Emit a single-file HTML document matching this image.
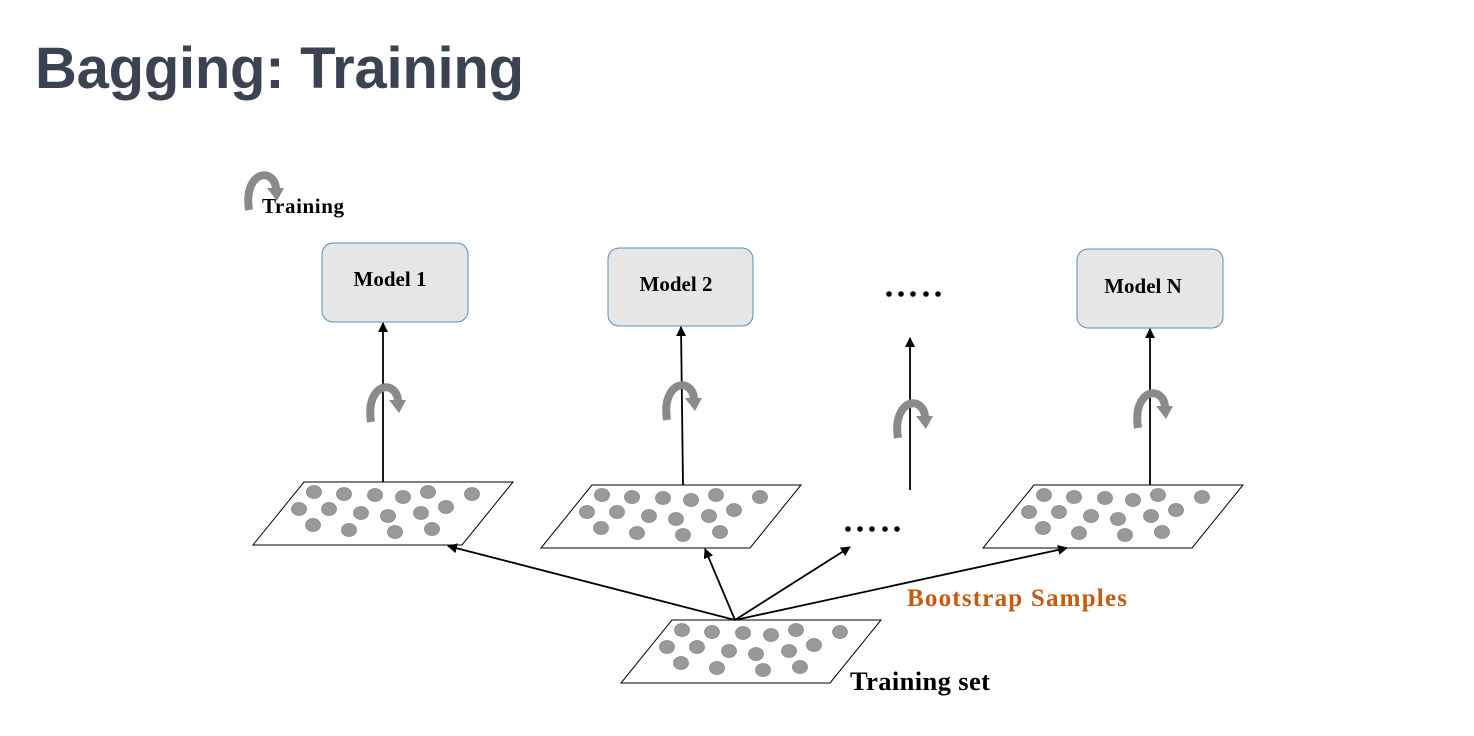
<!DOCTYPE html>
<html><head><meta charset="utf-8"><style>
html,body{margin:0;padding:0;background:#fff;width:1474px;height:736px;overflow:hidden}
</style></head><body>
<svg width="1474" height="736" viewBox="0 0 1474 736" xmlns="http://www.w3.org/2000/svg">
<defs>
<marker id="ah" markerWidth="10" markerHeight="10" refX="9" refY="5" orient="auto" markerUnits="userSpaceOnUse">
<path d="M0,0 L10,5 L0,10 z" fill="#000"/></marker>
<g id="cur">
<path d="M5,40 C1,14 14,2 24,6 C30,9 32,14 32,20" fill="none" stroke="#8a8a8a" stroke-width="8"/>
<polygon points="23,18 40,18 33,31" fill="#8a8a8a"/>
</g>
<g id="par">
<polygon points="51,0 260,0 209,63 0,63" fill="#fff" stroke="#000" stroke-width="1"/>
<g fill="#999" stroke="#888" stroke-width="0.8">
<ellipse cx="61" cy="10" rx="7.5" ry="6.5"/><ellipse cx="91" cy="12" rx="7.5" ry="6.5"/><ellipse cx="122" cy="13" rx="7.5" ry="6.5"/><ellipse cx="150" cy="15" rx="7.5" ry="6.5"/><ellipse cx="175" cy="10" rx="7.5" ry="6.5"/><ellipse cx="219" cy="12" rx="7.5" ry="6.5"/>
<ellipse cx="46" cy="27" rx="7.5" ry="6.5"/><ellipse cx="76" cy="27" rx="7.5" ry="6.5"/><ellipse cx="108" cy="31" rx="7.5" ry="6.5"/><ellipse cx="135" cy="34" rx="7.5" ry="6.5"/><ellipse cx="168" cy="31" rx="7.5" ry="6.5"/><ellipse cx="193" cy="25" rx="7.5" ry="6.5"/>
<ellipse cx="60" cy="43" rx="7.5" ry="6.5"/><ellipse cx="96" cy="48" rx="7.5" ry="6.5"/><ellipse cx="142" cy="50" rx="7.5" ry="6.5"/><ellipse cx="179" cy="47" rx="7.5" ry="6.5"/>
</g></g>
</defs>
<text x="35" y="88" font-family="'Liberation Sans',sans-serif" font-weight="bold" font-size="58" fill="#3b4252" textLength="489">Bagging: Training</text>

<use href="#cur" transform="translate(244,170)"/>
<text x="262" y="213" font-family="'Liberation Serif',serif" font-weight="bold" font-size="21" textLength="82">Training</text>

<g fill="#e7e6e6" stroke="#5b8dbf" stroke-width="1">
<rect x="322" y="243" width="146" height="79" rx="11"/>
<rect x="608" y="248" width="145" height="78" rx="11"/>
<rect x="1077" y="249" width="146" height="79" rx="11"/>
</g>
<g font-family="'Liberation Serif',serif" font-weight="bold" font-size="21" text-anchor="middle">
<text x="390" y="286">Model 1</text>
<text x="676" y="291">Model 2</text>
<text x="1143" y="293">Model N</text>
</g>
<g fill="#000">
<circle cx="889" cy="294" r="2.8"/><circle cx="901" cy="294" r="2.8"/><circle cx="913" cy="294" r="2.8"/><circle cx="926" cy="294" r="2.8"/><circle cx="938" cy="294" r="2.8"/>
<circle cx="848" cy="529" r="2.8"/><circle cx="860" cy="529" r="2.8"/><circle cx="872" cy="529" r="2.8"/><circle cx="885" cy="529" r="2.8"/><circle cx="897" cy="529" r="2.8"/>
</g>

<use href="#par" transform="translate(253,482)"/>
<use href="#par" transform="translate(541,485)"/>
<use href="#par" transform="translate(983,485)"/>
<use href="#par" transform="translate(621,620)"/>

<g stroke="#000" stroke-width="1.8" marker-end="url(#ah)">
<line x1="383" y1="482" x2="383" y2="323"/>
<line x1="683" y1="485" x2="681" y2="327"/>
<line x1="910" y1="490" x2="910" y2="338"/>
<line x1="1150" y1="485" x2="1150" y2="329"/>
<line x1="735" y1="620" x2="448" y2="546"/>
<line x1="735" y1="620" x2="705" y2="549"/>
<line x1="735" y1="620" x2="850" y2="547"/>
<line x1="735" y1="620" x2="1067" y2="548"/>
</g>

<use href="#cur" transform="translate(366,382)"/>
<use href="#cur" transform="translate(662,380)"/>
<use href="#cur" transform="translate(893,398)"/>
<use href="#cur" transform="translate(1133,388)"/>

<text x="907" y="606" font-family="'Liberation Serif',serif" font-weight="bold" font-size="25" fill="#c55a11" textLength="220">Bootstrap Samples</text>
<text x="850" y="690" font-family="'Liberation Serif',serif" font-weight="bold" font-size="26.5" fill="#000" textLength="140">Training set</text>
</svg>
</body></html>
